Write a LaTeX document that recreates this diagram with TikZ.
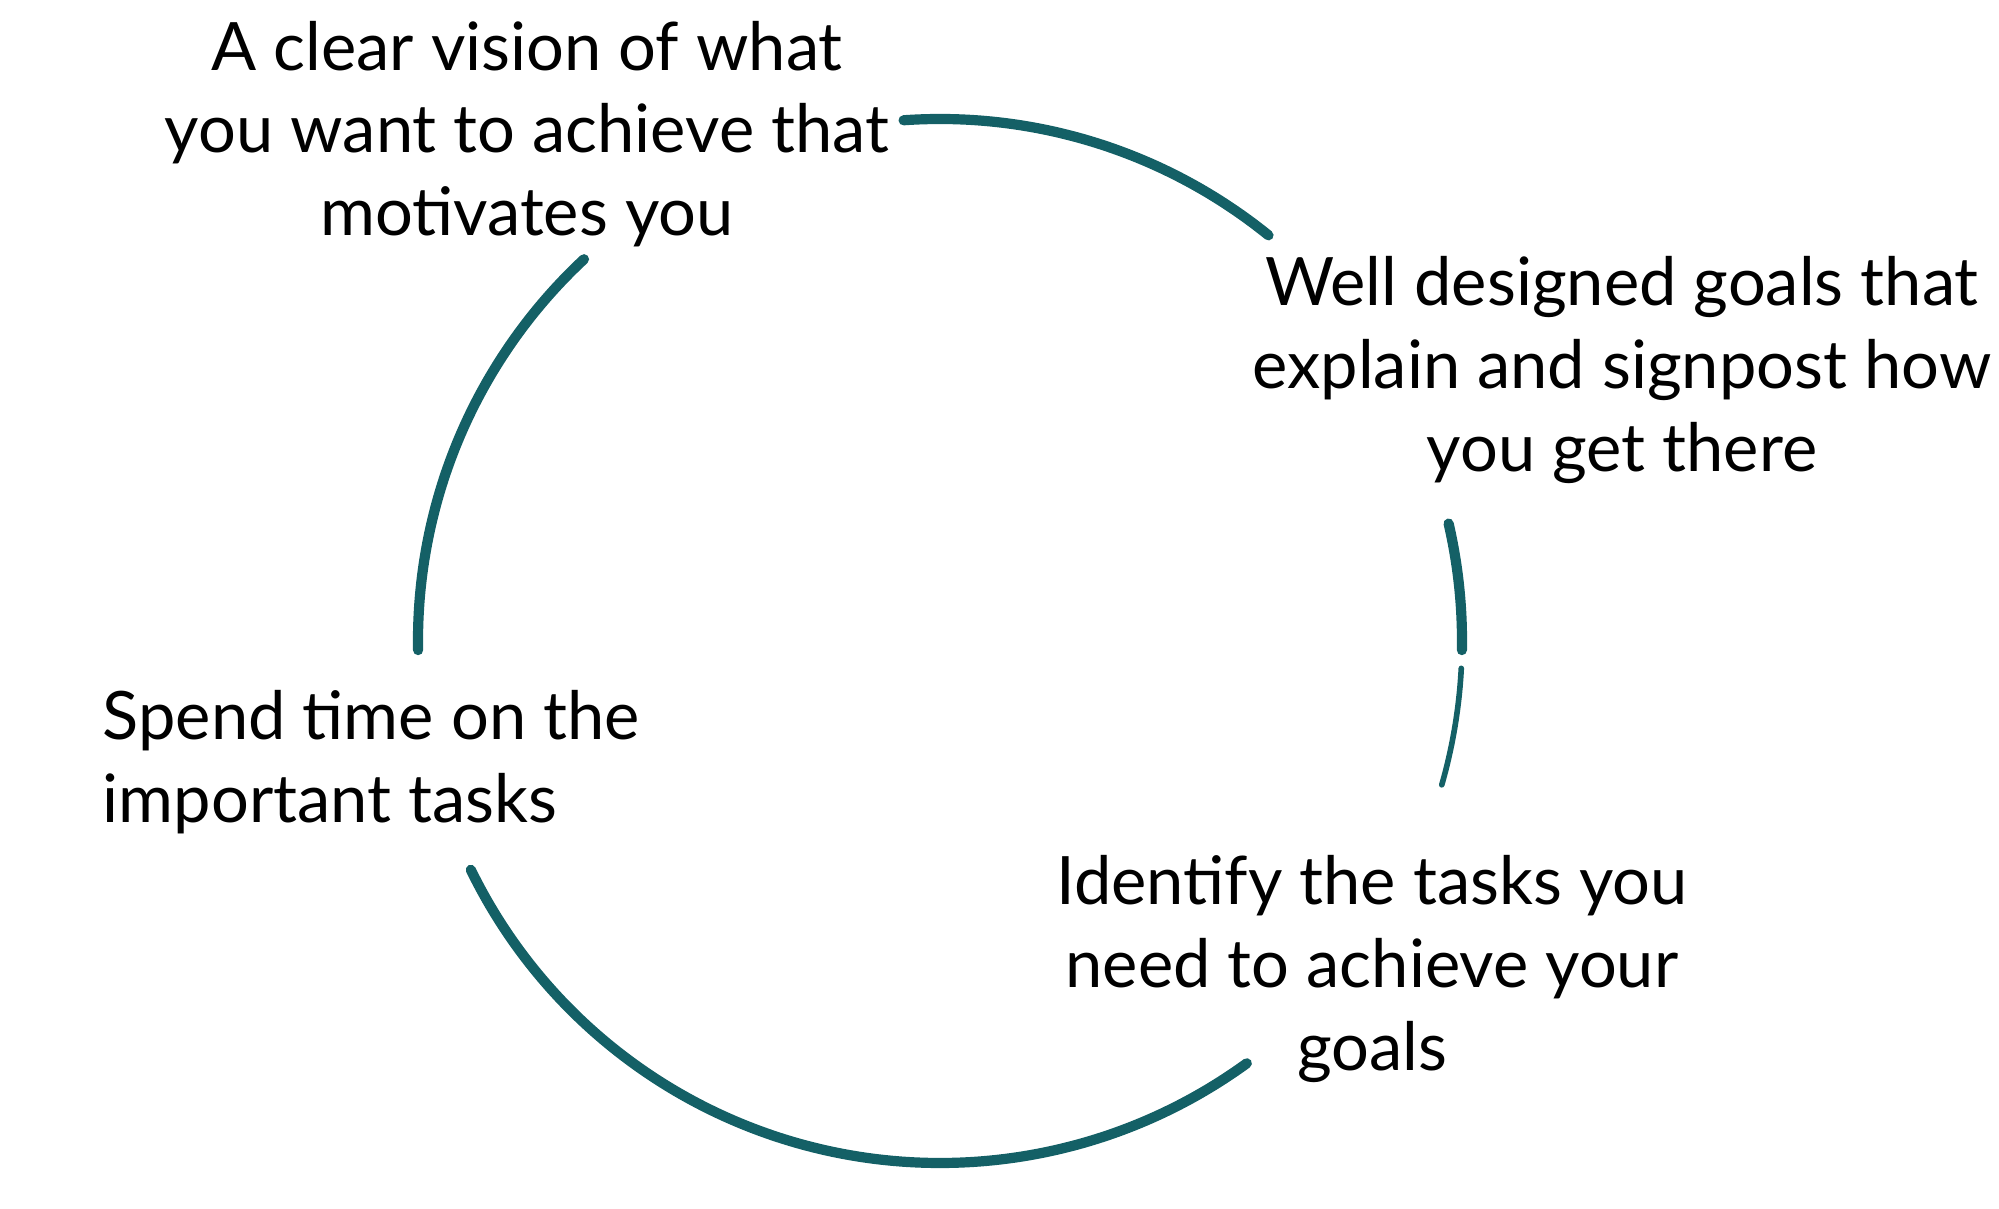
\documentclass[tikz,border=0pt]{standalone}
\usepackage{fontspec}
\setmainfont{Lato}
\usepackage{tikz}
\usetikzlibrary{positioning, calc}

\definecolor{cycteal}{RGB}{20,96,102}

\begin{document}
\begin{tikzpicture}[
    ring/.style={draw=cycteal, line width=2.9pt, line cap=round},
    thinring/.style={draw=cycteal, line width=1.6pt, line cap=round},
    lbl/.style={font=\fontsize{19}{23.5}\selectfont, align=center, inner sep=0pt},
    every node/.style={text=black}
]

\useasboundingbox (0,0) rectangle (19.99,12.09);

% --- centre of the cycle ---
\coordinate (C) at (9.40, 5.68);
\def\rad{5.22}

% --- Labels ---
\node[lbl] (vision) at (5.27, 10.75) {
    A clear vision of what \\
    you want to achieve that \\
    motivates you
};
\node[lbl] (goals) at (16.22, 8.39) {
    Well designed goals that \\
    explain and signpost how \\
    you get there
};
\node[lbl] (tasks) at (13.72, 2.40) {
    Identify the tasks you \\
    need to achieve your \\
    goals
};
\node[lbl, align=left, anchor=west] (time) at (1.02, 4.47) {
    Spend time on the \\
    important tasks
};

% --- Arcs of the cycle (gaps left for the labels) ---
\draw[ring] ($(C)+(94:\rad)$) arc[start angle=94, end angle=51, radius=\rad];
\draw[ring] ($(C)+(13:\rad)$) arc[start angle=13, end angle=-1, radius=\rad];
\draw[thinring] ($(C)+(-3:\rad)$) arc[start angle=-3, end angle=-16, radius=\rad];
\draw[ring] ($(C)+(-54:\rad)$) arc[start angle=-54, end angle=-154, radius=\rad];
\draw[ring] ($(C)+(181:\rad)$) arc[start angle=181, end angle=133, radius=\rad];

\end{tikzpicture}
\end{document}
